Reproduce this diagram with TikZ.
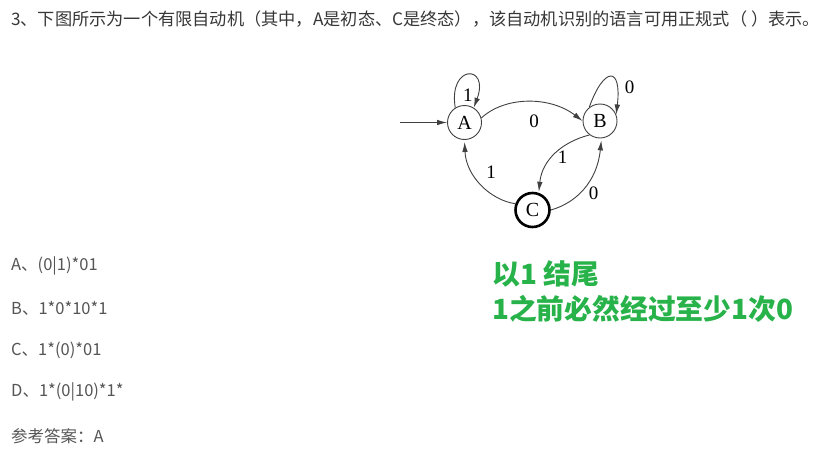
\documentclass[tikz,border=0pt]{standalone}
\usepackage{fontspec}
\setmainfont{Liberation Serif}
\newfontfamily\cjk{Noto Sans CJK SC}
\usetikzlibrary{arrows.meta}
\definecolor{txtgray}{RGB}{55,55,55}
\definecolor{optgray}{RGB}{85,85,85}
\definecolor{notegreen}{RGB}{40,178,74}

\begin{document}
\begin{tikzpicture}[x=1pt, y=1pt,
	state/.style={circle, draw=black!75, line width=0.9pt, minimum size=34pt, inner sep=0pt, font=\fontsize{20}{20}\selectfont},
	final/.style={state, draw=black, line width=2.6pt},
	edge/.style={draw=black!75, line width=0.9pt, -{Latex[length=10pt,width=5.5pt]}},
	lbl/.style={font=\fontsize{19}{19}\selectfont, inner sep=1pt},
	question/.style={anchor=west, inner sep=0pt, text=txtgray, font=\cjk\fontsize{17.2}{20}\selectfont},
	option/.style={anchor=west, inner sep=0pt, text=optgray, font=\cjk\fontsize{16.5}{20}\selectfont},
	note/.style={anchor=west, inner sep=0pt, text=notegreen, font=\cjk\bfseries\fontsize{27.8}{30}\selectfont}]

	\useasboundingbox[fill=white] (0,0) rectangle (824,-455);

	% question
	\node[question] (title) at (11,-19) {3、下图所示为一个有限自动机（其中，A是初态、C是终态），该自动机识别的语言可用正规式（ ）表示。};

	% automaton
	\node[state] (A) at (464.5,-122.5) {A};
	\node[state] (B) at (600,-121) {B};
	\node[final] (C) at (532.5,-210) {C};
	\coordinate (start) at (400,-122.5);

	\draw[edge] (start) -- (A);
	\draw[edge] (A.122) .. controls (448,-64) and (490,-64) .. (A.58) node[lbl, pos=0.5, below=13pt] {1};
	\draw[edge] (B.128) .. controls (604,-66) and (622,-66) .. (B.22) node[lbl, pos=0.75, right=7pt] {0};
	\draw[edge] (A.15) .. controls (505,-96) and (550,-96) .. (B.west) node[lbl, pos=0.55, below=11pt] {0};
	\draw[edge, shorten >=1pt] (B.233) .. controls (562,-142) and (542,-160) .. (C.70) node[lbl, pos=0.55, right=4pt] {1};
	\draw[edge, shorten >=2pt] (C.east) .. controls (576,-203) and (597,-182) .. (B.275) node[lbl, pos=0.55, below right=1pt] {0};
	\draw[edge, shorten >=2pt] (C.160) .. controls (490,-200) and (466,-176) .. (A.south) node[lbl, pos=0.5, above right=4pt] {1};

	% options
	\node[option] (optA) at (11,-266) {A、(0|1)*01};
	\node[option] (optB) at (11,-308) {B、1*0*10*1};
	\node[option] (optC) at (11,-350) {C、1*(0)*01};
	\node[option] (optD) at (11,-392) {D、1*(0|10)*1*};
	\node[option] (answer) at (11,-436) {参考答案：A};

	% note
	\node[note] (note1) at (492,-274) {以1 结尾};
	\node[note] (note2) at (492,-309) {1之前必然经过至少1次0};
\end{tikzpicture}
\end{document}
